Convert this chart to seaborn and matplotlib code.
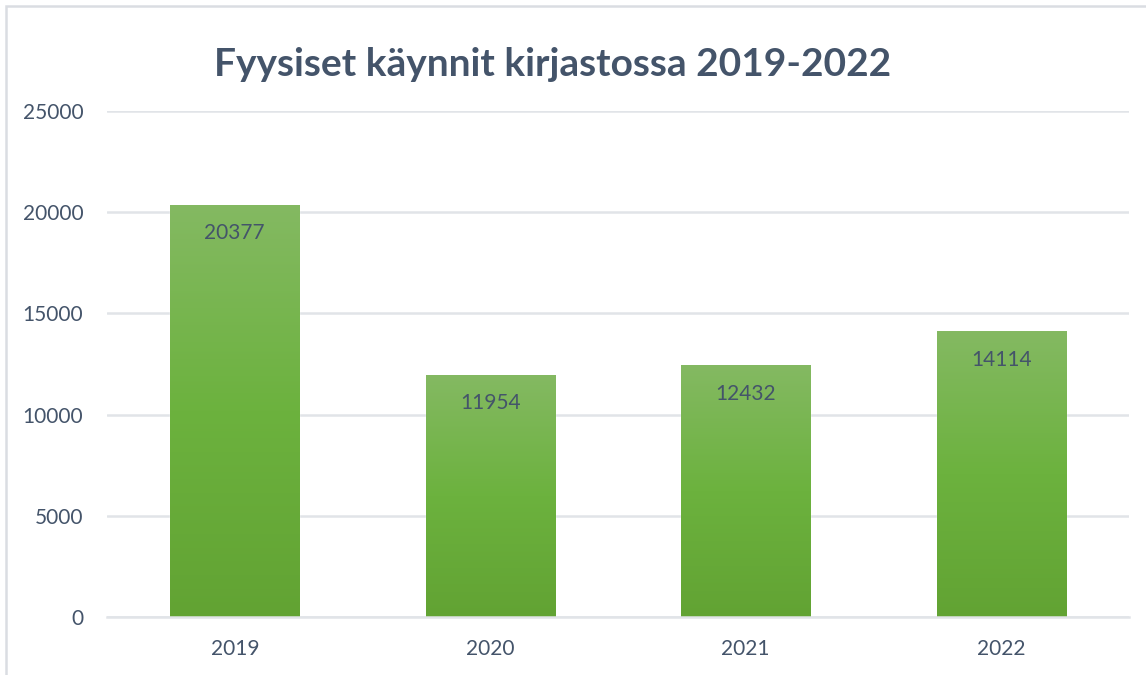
import numpy as np
import pandas as pd
import matplotlib
matplotlib.use("Agg")
import matplotlib.pyplot as plt
from matplotlib.colors import LinearSegmentedColormap
import seaborn as sns

# Data
vuodet = ["2019", "2020", "2021", "2022"]
kaynnit = [20377, 11954, 12432, 14114]
y_ticks = [0, 5000, 10000, 15000, 20000, 25000]

TEXT = "#44546A"
GRID = "#E1E4E8"

sns.set_theme(style="white")
plt.rcParams["font.family"] = ["Lato", "DejaVu Sans"]

df = pd.DataFrame({"vuosi": vuodet, "kaynnit": kaynnit})

fig = plt.figure(figsize=(11.46, 6.75), dpi=100)
ax = fig.add_axes([107 / 1146, 58 / 675, 1022 / 1146, 506 / 675])

sns.barplot(data=df, x="vuosi", y="kaynnit", color="#70AD47", width=0.505,
            saturation=1, ax=ax, zorder=3)

# gradient fill clipped to each bar
cmap = LinearSegmentedColormap.from_list("g", ["#62A333", "#6CB23E", "#84B962"])
grad = np.linspace(0, 1, 256).reshape(-1, 1)
for p in ax.patches:
    x0, y0 = p.get_x(), p.get_y()
    w, h = p.get_width(), p.get_height()
    im = ax.imshow(grad, cmap=cmap, origin="lower", aspect="auto",
                   extent=[x0, x0 + w, y0, y0 + h], zorder=4)
    im.set_clip_path(p)
    ax.text(x0 + w / 2, y0 + h - 1400, f"{int(h)}", ha="center", va="center",
            fontsize=15, color=TEXT, zorder=5)

ax.set_xlim(-0.5, 3.5)
ax.set_ylim(0, 25000)
ax.set_yticks(y_ticks)
ax.set_yticklabels([str(t) for t in y_ticks])
ax.yaxis.grid(True, color=GRID, linewidth=1.8, zorder=0)
ax.set_axisbelow(True)
for s in ["top", "right", "left"]:
    ax.spines[s].set_visible(False)
ax.spines["bottom"].set_color(GRID)
ax.spines["bottom"].set_linewidth(1.8)
ax.spines["bottom"].set_zorder(6)
ax.tick_params(axis="both", length=0, labelsize=15, colors=TEXT)
ax.tick_params(axis="y", pad=17)
ax.tick_params(axis="x", pad=16)
ax.set_xlabel("")
ax.set_ylabel("")

fig.text(553 / 1146, 1 - 65 / 675, "Fyysiset käynnit kirjastossa 2019-2022",
         ha="center", va="center", fontsize=28, fontweight="bold", color=TEXT)

# chart frame
fig.add_artist(plt.Rectangle((6 / 1146, -0.05), 1.2, 1 - 6 / 675 + 0.05,
                             transform=fig.transFigure, fill=False,
                             edgecolor="#DADDE2", linewidth=1.8))

fig.savefig("out.png", dpi=100)
